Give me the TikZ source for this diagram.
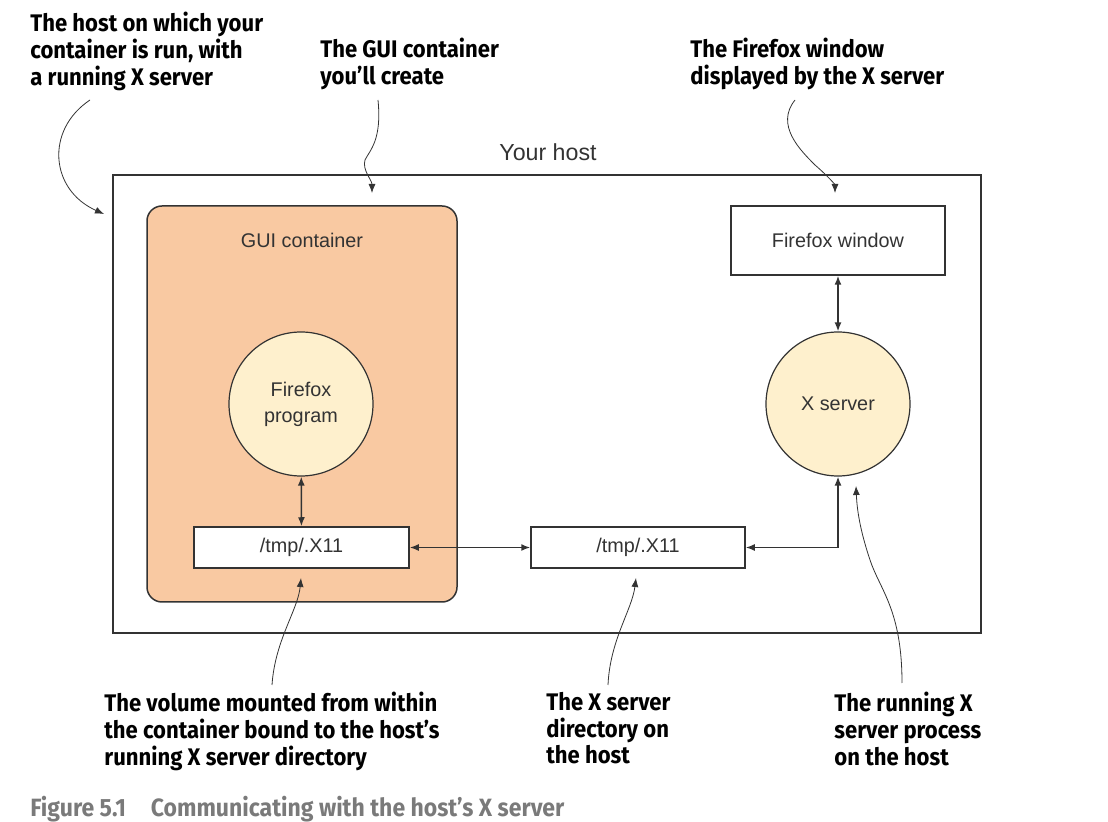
\documentclass[tikz,border=0pt]{standalone}
\usepackage{fontspec}
\setmainfont{Liberation Sans}
\newfontfamily\notefont{Fira Sans}[FakeStretch=0.92]
\usetikzlibrary{arrows.meta}
\definecolor{peach}{HTML}{F9C9A2}
\definecolor{cream}{HTML}{FEF0CD}
\definecolor{linegray}{HTML}{333333}
\definecolor{capgray}{HTML}{7A7A7A}
\begin{document}
\begin{tikzpicture}[x=0.5pt,y=0.5pt,
  every node/.style={inner sep=0pt,text=linegray},
  lbl/.style={font=\fontsize{9.9}{12}\selectfont},
  boxnode/.style={draw=linegray,line width=0.75pt,fill=white,lbl},
  proc/.style={circle,draw=linegray,line width=0.6pt,fill=cream,minimum size=72pt,align=center,lbl},
  note/.style={anchor=north west,align=left,text=black,font=\notefont\bfseries\fontsize{12}{13.3}\selectfont},
  link/.style={{Latex[length=4.5pt,width=3.5pt]}-{Latex[length=4.5pt,width=3.5pt]},draw=linegray,line width=0.75pt},
  pointer/.style={-{Latex[length=4.5pt,width=3.5pt]},draw=linegray,line width=0.4pt}]
\useasboundingbox (0,0) rectangle (1108,-822);
\node[boxnode,fill=none,minimum width=434pt,minimum height=229pt] (host) at (547,-404) {};
\node[font=\fontsize{11.6}{14}\selectfont] (hostlbl) at (548,-152) {Your host};
\node[draw=linegray,line width=0.75pt,fill=peach,rounded corners=7.5pt,minimum width=155pt,minimum height=198pt] (gui) at (302,-404) {};
\node[lbl] (guilbl) at (302,-240) {GUI container};
\node[proc] (ffprog) at (301,-404) {Firefox\\[1pt]program};
\node[proc] (xserver) at (838,-404) {X server};
\node[boxnode,minimum width=107.5pt,minimum height=20.5pt] (tmpa) at (301.5,-547.5) {/tmp/.X11};
\node[boxnode,minimum width=107pt,minimum height=20.5pt] (tmpb) at (638,-547.5) {/tmp/.X11};
\node[boxnode,minimum width=107pt,minimum height=34.5pt] (ffwin) at (838,-240.5) {Firefox window};
\draw[link] (ffprog) -- (tmpa);
\draw[link] (tmpa) -- (tmpb);
\draw[link] (tmpb.east) -| (xserver.south);
\draw[link] (ffwin) -- (xserver);
% annotations
\node[note] (hostnote) at (30,-12) {The host on which your\\container is run, with\\a running X server};
\node[note] (guinote) at (320,-38) {The GUI container\\you’ll create};
\node[note] (winnote) at (690,-38) {The Firefox window\\displayed by the X server};
\node[note] (volnote) at (104,-692) {The volume mounted from within\\the container bound to the host’s\\running X server directory};
\node[note] (dirnote) at (546,-692) {The X server\\directory on\\the host};
\node[note] (procnote) at (834,-692) {The running X\\server process\\on the host};
\node[anchor=north west,text=capgray,font=\notefont\bfseries\fontsize{12.5}{14}\selectfont] (caption) at (30,-796) {Figure 5.1\quad Communicating with the host’s X server};
\coordinate (p1) at (104,-214);
\coordinate (p2) at (372,-193);
\coordinate (p3) at (835,-193);
\coordinate (p4) at (301,-578);
\coordinate (p5) at (636,-578);
\coordinate (p6) at (856,-486);
\draw[pointer] (90,-100) .. controls (45,-130) and (50,-190) .. (p1);
\draw[pointer] (378,-100) .. controls (382,-140) and (370,-150) .. (365,-160) .. controls (362,-170) and (372,-180) .. (p2);
\draw[pointer] (795,-100) .. controls (775,-125) and (800,-150) .. (815,-165) .. controls (830,-178) and (835,-185) .. (p3);
\draw[pointer] (272,-685) .. controls (275,-640) and (298,-610) .. (p4);
\draw[pointer] (608,-685) .. controls (610,-640) and (632,-610) .. (p5);
\draw[pointer] (902,-683) .. controls (902,-610) and (880,-590) .. (870,-560) .. controls (860,-530) and (857,-510) .. (p6);
\end{tikzpicture}
\end{document}
